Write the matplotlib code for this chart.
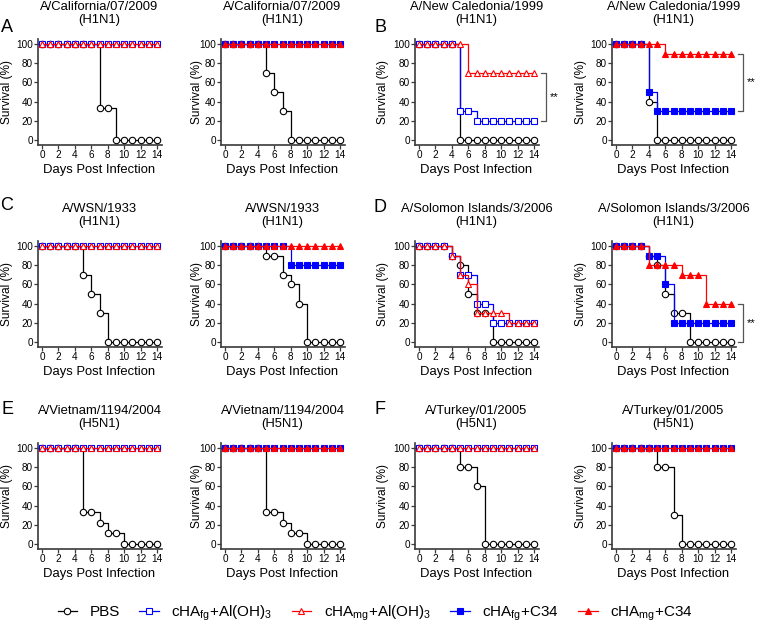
# Survival curves after challenge with six influenza strains,
# PBS vs cHA vaccines formulated with Al(OH)3 or C34.

import matplotlib
matplotlib.use("Agg")
import matplotlib.pyplot as plt
from matplotlib.lines import Line2D

plt.rcParams['font.family'] = ['Liberation Sans', 'DejaVu Sans']
plt.rcParams['mathtext.fontset'] = 'custom'
plt.rcParams['mathtext.rm'] = 'Liberation Sans'
plt.rcParams['mathtext.default'] = 'regular'

W, H = 757, 626

days = [0, 1, 2, 3, 4, 5, 6, 7, 8, 9, 10, 11, 12, 13, 14]

all_alive = [100, 100, 100, 100, 100, 100, 100, 100, 100, 100, 100, 100, 100, 100, 100]

cal_alum_pbs = [100, 100, 100, 100, 100, 100, 100, 33, 33, 0, 0, 0, 0, 0, 0]
cal_c34_pbs = [100, 100, 100, 100, 100, 70, 50, 30, 0, 0, 0, 0, 0, 0, 0]

nc_alum_pbs = [100, 100, 100, 100, 100, 0, 0, 0, 0, 0, 0, 0, 0, 0, 0]
nc_alum_fg = [100, 100, 100, 100, 100, 30, 30, 20, 20, 20, 20, 20, 20, 20, 20]
nc_alum_mg = [100, 100, 100, 100, 100, 100, 70, 70, 70, 70, 70, 70, 70, 70, 70]
nc_c34_pbs = [100, 100, 100, 100, 40, 0, 0, 0, 0, 0, 0, 0, 0, 0, 0]
nc_c34_fg = [100, 100, 100, 100, 50, 30, 30, 30, 30, 30, 30, 30, 30, 30, 30]
nc_c34_mg = [100, 100, 100, 100, 100, 100, 90, 90, 90, 90, 90, 90, 90, 90, 90]

wsn_alum_pbs = [100, 100, 100, 100, 100, 70, 50, 30, 0, 0, 0, 0, 0, 0, 0]
wsn_c34_pbs = [100, 100, 100, 100, 100, 90, 90, 70, 60, 40, 0, 0, 0, 0, 0]
wsn_c34_fg = [100, 100, 100, 100, 100, 100, 100, 100, 80, 80, 80, 80, 80, 80, 80]

sol_alum_pbs = [100, 100, 100, 100, 90, 80, 50, 30, 30, 0, 0, 0, 0, 0, 0]
sol_alum_fg = [100, 100, 100, 100, 90, 70, 70, 40, 40, 20, 20, 20, 20, 20, 20]
sol_alum_mg = [100, 100, 100, 100, 90, 70, 60, 30, 30, 30, 30, 20, 20, 20, 20]
sol_c34_pbs = [100, 100, 100, 100, 90, 80, 50, 30, 30, 0, 0, 0, 0, 0, 0]
sol_c34_fg = [100, 100, 100, 100, 90, 90, 60, 20, 20, 20, 20, 20, 20, 20, 20]
sol_c34_mg = [100, 100, 100, 100, 80, 80, 80, 80, 70, 70, 70, 40, 40, 40, 40]

vn_pbs = [100, 100, 100, 100, 100, 33, 33, 22, 11, 11, 0, 0, 0, 0, 0]

tk_alum_pbs = [100, 100, 100, 100, 100, 80, 80, 60, 0, 0, 0, 0, 0, 0, 0]
tk_c34_pbs = [100, 100, 100, 100, 100, 80, 80, 30, 0, 0, 0, 0, 0, 0, 0]

strains = ["A/California/07/2009", "A/New Caledonia/1999", "A/WSN/1933",
           "A/Solomon Islands/3/2006", "A/Vietnam/1194/2004", "A/Turkey/01/2005"]
subtypes = ["(H1N1)", "(H1N1)", "(H1N1)", "(H1N1)", "(H5N1)", "(H5N1)"]
letters = ["A", "B", "C", "D", "E", "F"]

# (pbs, fg, mg, adjuvant) for each of the 12 panels, row by row
panels = [
    (cal_alum_pbs, all_alive, all_alive, "alum"),
    (cal_c34_pbs, all_alive, all_alive, "c34"),
    (nc_alum_pbs, nc_alum_fg, nc_alum_mg, "alum"),
    (nc_c34_pbs, nc_c34_fg, nc_c34_mg, "c34"),
    (wsn_alum_pbs, all_alive, all_alive, "alum"),
    (wsn_c34_pbs, wsn_c34_fg, all_alive, "c34"),
    (sol_alum_pbs, sol_alum_fg, sol_alum_mg, "alum"),
    (sol_c34_pbs, sol_c34_fg, sol_c34_mg, "c34"),
    (vn_pbs, all_alive, all_alive, "alum"),
    (vn_pbs, all_alive, all_alive, "c34"),
    (tk_alum_pbs, all_alive, all_alive, "alum"),
    (tk_c34_pbs, all_alive, all_alive, "c34"),
]

# significance brackets: panel index -> (upper, lower)
brackets = {2: (70, 20), 3: (90, 30), 7: (40, 0)}

labels = ["PBS", r"cHA$_{fg}$+Al(OH)$_3$", r"cHA$_{mg}$+Al(OH)$_3$",
          r"cHA$_{fg}$+C34", r"cHA$_{mg}$+C34"]

BLUE = "#0000ff"
RED = "#ff0000"
AXC = "#3a3a3a"

# pixel positions of x=0 per column and y=100 per row
col_x0 = [42, 225, 419, 616]
row_y100 = [44, 246, 448]
ylab_x = [7, 197, 383, 581]
letter_pos = [(7, 27), (380, 27), (7, 205), (380, 207), (7, 409), (380, 409)]
sx = 115 / 14.0
sy = 0.96

fig = plt.figure(figsize=(W / 100, H / 100), dpi=100)

ms = 4.6
mew = 0.8
lw = 0.9

for i, (pbs, fg, mg, adj) in enumerate(panels):
    r, c = i // 4, i % 4
    x0 = col_x0[c]
    y100 = row_y100[r]
    y0 = y100 + 100 * sy
    left = (x0 - 0.5 * sx) / W
    width = 15.1 * sx / W
    bottom = 1 - (y0 + 5 * sy) / H
    height = 110 * sy / H
    ax = fig.add_axes([left, bottom, width, height])

    ax.plot(days, pbs, drawstyle='steps-post', color='black', lw=lw, zorder=2)
    ax.plot(days, pbs, ls='none', marker='o', ms=ms, mew=mew, mec='black',
            mfc='white', zorder=3)
    fill = adj == "c34"
    ax.plot(days, fg, drawstyle='steps-post', color=BLUE, lw=lw, zorder=4)
    ax.plot(days, fg, ls='none', marker='s', ms=ms - 0.4, mew=mew, mec=BLUE,
            mfc=BLUE if fill else 'white', zorder=5)
    ax.plot(days, mg, drawstyle='steps-post', color=RED, lw=lw, zorder=6)
    ax.plot(days, mg, ls='none', marker='^', ms=ms, mew=mew, mec=RED,
            mfc=RED if fill else 'white', zorder=7)

    ax.set_xlim(-0.5, 14.6)
    ax.set_ylim(-5, 105)
    ax.set_xticks([0, 2, 4, 6, 8, 10, 12, 14])
    ax.set_yticks([0, 20, 40, 60, 80, 100])
    ax.tick_params(direction='out', length=2.8, width=0.9, color=AXC,
                   labelsize=7.2, pad=0.8)
    for s in ['top', 'right']:
        ax.spines[s].set_visible(False)
    for s in ['left', 'bottom']:
        ax.spines[s].set_color(AXC)
        ax.spines[s].set_linewidth(1.2)

    if i in brackets:
        hi, lo = brackets[i]
        bx, tx = 15.4, 14.9
        ax.plot([tx, bx, bx, tx], [hi, hi, lo, lo], color='#555555', lw=0.9,
                clip_on=False)
        ax.text(16.4, (hi + lo) / 2, "**", fontsize=8, ha='center',
                va='center', clip_on=False)

    xc = x0 + 57.5
    fig.text(xc / W, 1 - (y0 + 30) / H, "Days Post Infection", fontsize=9.4,
             ha='center', va='center')
    fig.text(ylab_x[c] / W, 1 - (y0 - 48) / H, "Survival (%)", fontsize=8.6,
             rotation=90, ha='center', va='center')
    k = r * 2 + c // 2
    fig.text(xc / W, 1 - (y100 - 37) / H, strains[k], fontsize=9.4,
             ha='center', va='center')
    fig.text(xc / W, 1 - (y100 - 24) / H, subtypes[k], fontsize=9.4,
             ha='center', va='center')

for k, (lx, ly) in enumerate(letter_pos):
    fig.text(lx / W, 1 - ly / H, letters[k], fontsize=13, ha='center',
             va='center')

handles = [
    Line2D([], [], color='black', lw=lw, marker='o', ms=ms, mew=mew, mfc='white'),
    Line2D([], [], color=BLUE, lw=lw, marker='s', ms=ms, mew=mew, mfc='white'),
    Line2D([], [], color=RED, lw=lw, marker='^', ms=ms, mew=mew, mfc='white'),
    Line2D([], [], color=BLUE, lw=lw, marker='s', ms=ms, mew=mew, mfc=BLUE),
    Line2D([], [], color=RED, lw=lw, marker='^', ms=ms, mew=mew, mfc=RED),
]
fig.legend(handles, labels, loc='center', bbox_to_anchor=(375 / W, 1 - 613 / H),
           ncol=5, frameon=False, fontsize=11, handlelength=1.3,
           handletextpad=0.8, columnspacing=1.25)

fig.savefig("out.png", dpi=100)
